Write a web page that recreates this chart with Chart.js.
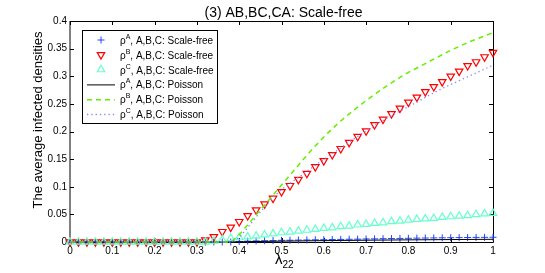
<!DOCTYPE html>
<html>
<head>
<meta charset="utf-8">
<script src="https://cdn.jsdelivr.net/npm/chart.js@4"></script>
<style>
html,body{margin:0;padding:0;background:#fff;}
#wrap{width:545px;height:273px;position:relative;}
</style>
</head>
<body>
<div id="wrap"><canvas id="c" width="545" height="273"></canvas></div>
<script>
const lambda = [0,0.02,0.04,0.06,0.08,0.10,0.12,0.14,0.16,0.18,0.20,0.22,0.24,0.26,0.28,0.30,0.32,0.34,0.36,0.38,0.40,0.42,0.44,0.46,0.48,0.50,0.52,0.54,0.56,0.58,0.60,0.62,0.64,0.66,0.68,0.70,0.72,0.74,0.76,0.78,0.80,0.82,0.84,0.86,0.88,0.90,0.92,0.94,0.96,0.98,1.00];

// Scale-free network results (markers)
const rhoA_SF = [0,0,0,0,0,0,0,0,0,0,0,0,0,0,0,0,0,0,0,0,
  0.001,0.0015,0.002,0.0023,0.0026,0.003,0.0032,0.0035,0.0037,0.004,0.0042,0.0045,0.0047,0.005,0.0052,0.0055,0.0057,0.006,0.0062,0.0065,0.0067,0.007,0.0072,0.0074,0.0076,0.0078,0.008,0.0081,0.0083,0.0084,0.0086];
const rhoB_SF = [0,0,0,0,0,0,0,0,0,0,0,0,0,0,0,0,
  0.0036,0.0096,0.0187,0.0266,0.0368,0.0476,0.058,0.0688,0.079,0.091,0.102,0.113,0.124,0.136,0.147,0.158,0.169,0.180,0.191,0.201,0.212,0.222,0.232,0.242,0.253,0.262,0.272,0.281,0.290,0.300,0.309,0.319,0.326,0.335,0.343];
const rhoC_SF = [0,0,0,0,0,0,0,0,0,0,0,0,0,0,0,0,0,
  0.002,0.004,0.0066,0.008,0.0096,0.011,0.013,0.015,0.017,0.018,0.020,0.0215,0.023,0.025,0.026,0.028,0.029,0.031,0.032,0.034,0.035,0.037,0.038,0.040,0.041,0.042,0.043,0.045,0.046,0.047,0.048,0.050,0.051,0.052];

// Poisson network results (lines)
const rhoA_P = [0,0,0,0,0,0,0,0,0,0,0,0,0,0,0,0,0,0,0,0,
  0.0003,0.0006,0.0009,0.0011,0.0013,0.0015,0.0017,0.0019,0.0021,0.0023,0.0025,0.0026,0.0028,0.0029,0.0031,0.0032,0.0034,0.0035,0.0036,0.0038,0.0039,0.004,0.0041,0.0042,0.0043,0.0044,0.0045,0.0046,0.0047,0.0048,0.0049];
const rhoB_P = [0,0,0,0,0,0,0,0,0,0,0,0,0,0,0,0,0,0,0,0,
  0.013,0.031,0.049,0.067,0.085,0.103,0.121,0.139,0.157,0.174,0.190,0.205,0.219,0.232,0.244,0.256,0.267,0.278,0.288,0.298,0.307,0.315,0.323,0.331,0.339,0.347,0.354,0.361,0.367,0.373,0.379];
const rhoC_P = [0,0,0,0,0,0,0,0,0,0,0,0,0,0,0,0,0,0,0,0,
  0.008,0.026,0.045,0.063,0.081,0.095,0.106,0.117,0.128,0.139,0.149,0.160,0.170,0.181,0.191,0.201,0.211,0.220,0.229,0.237,0.245,0.253,0.262,0.270,0.278,0.285,0.292,0.299,0.306,0.313,0.320];

const xTicks = [0,0.1,0.2,0.3,0.4,0.5,0.6,0.7,0.8,0.9,1];
const xTickLabels = ['0','0.1','0.2','0.3','0.4','0.5','0.6','0.7','0.8','0.9','1'];
const yTicks = [0,0.05,0.1,0.15,0.2,0.25,0.3,0.35,0.4];
const yTickLabels = ['0','0.05','0.1','0.15','0.2','0.25','0.3','0.35','0.4'];

const titleText = '(3) AB,BC,CA: Scale-free';
const yTitle = 'The average infected densities';
const legendItems = [
  {sup:'A', rest:', A,B,C: Scale-free'},
  {sup:'B', rest:', A,B,C: Scale-free'},
  {sup:'C', rest:', A,B,C: Scale-free'},
  {sup:'A', rest:', A,B,C: Poisson'},
  {sup:'B', rest:', A,B,C: Poisson'},
  {sup:'C', rest:', A,B,C: Poisson'}
];

const FONT = "'Liberation Sans', Arial, sans-serif";
const pts = arr => arr.map((v,i)=>({x:lambda[i], y:v}));

const datasets = [
  {data:pts(rhoA_SF), borderColor:'#2244ff', showLine:false, pointStyle:'cross', pointRadius:3.5, pointBorderWidth:1, order:5},
  {data:pts(rhoB_SF), borderColor:'#ff0000', showLine:false, pointStyle:'triangle', rotation:180, pointRadius:4.3, pointBorderWidth:1.2, order:4},
  {data:pts(rhoC_SF), borderColor:'#66ffcc', showLine:false, pointStyle:'triangle', pointRadius:4.3, pointBorderWidth:1.2, order:3},
  {data:pts(rhoA_P), borderColor:'#000000', borderWidth:1, pointRadius:0, order:2},
  {data:pts(rhoB_P), borderColor:'#66ee00', borderWidth:1.5, borderDash:[5,4], pointRadius:0, order:1},
  {data:pts(rhoC_P), borderColor:'#8888ff', borderWidth:1.3, borderDash:[1.3,3], pointRadius:0, order:0}
];
datasets.forEach(d=>{ d.clip = false; d.tension = 0; d.fill = false; d.pointBorderColor = d.borderColor; d.pointBackgroundColor = 'rgba(0,0,0,0)'; });

const decor = {
  id:'decor',
  beforeDatasetsDraw(chart){
    const {ctx, chartArea:a, scales:{x, y}} = chart;
    ctx.save();
    ctx.strokeStyle = '#000'; ctx.lineWidth = 1;
    ctx.beginPath();
    ctx.moveTo(a.left, a.top+0.5); ctx.lineTo(a.right+0.5, a.top+0.5); ctx.lineTo(a.right+0.5, a.bottom+0.5);
    ctx.stroke();
    ctx.beginPath(); ctx.moveTo(a.left, a.bottom+0.5); ctx.lineTo(a.right+0.5, a.bottom+0.5); ctx.stroke();
    ctx.strokeStyle = '#808080'; ctx.lineWidth = 2;
    ctx.beginPath(); ctx.moveTo(a.left, a.top); ctx.lineTo(a.left, a.bottom+1); ctx.stroke();
    ctx.strokeStyle = '#000'; ctx.lineWidth = 1;
    const tl = 4;
    xTicks.forEach(v=>{
      const px = Math.round(x.getPixelForValue(v))+0.5;
      ctx.beginPath(); ctx.moveTo(px, a.bottom); ctx.lineTo(px, a.bottom-tl); ctx.stroke();
      ctx.beginPath(); ctx.moveTo(px, a.top); ctx.lineTo(px, a.top+tl); ctx.stroke();
    });
    yTicks.forEach(v=>{
      const py = Math.round(y.getPixelForValue(v))+0.5;
      ctx.beginPath(); ctx.moveTo(a.left, py); ctx.lineTo(a.left+tl, py); ctx.stroke();
      ctx.beginPath(); ctx.moveTo(a.right, py); ctx.lineTo(a.right-tl, py); ctx.stroke();
    });
    ctx.restore();
  },
  afterDraw(chart){
    const {ctx, chartArea:a} = chart;
    ctx.save();
    ctx.fillStyle = '#000';
    ctx.font = '14px ' + FONT;
    ctx.textAlign = 'center'; ctx.textBaseline = 'alphabetic';
    ctx.fillText(titleText, (a.left+a.right)/2 + 2, 17);
    ctx.save();
    ctx.translate(42, 120);
    ctx.rotate(-Math.PI/2);
    ctx.font = '13px ' + FONT;
    ctx.textAlign = 'center'; ctx.textBaseline = 'alphabetic';
    ctx.fillText(yTitle, 0, 0);
    ctx.restore();
    ctx.textAlign = 'left';
    ctx.font = '15px ' + FONT;
    const lx = 275;
    ctx.fillText('λ', lx, 264);
    const lw = ctx.measureText('λ').width;
    ctx.font = '10px ' + FONT;
    ctx.fillText('22', lx + lw, 268);
    // legend
    const bx = 82, by = 30, bw = 135, bh = 93;
    ctx.fillStyle = '#fff';
    ctx.fillRect(bx, by, bw, bh);
    ctx.strokeStyle = '#000'; ctx.lineWidth = 1;
    ctx.strokeRect(bx+0.5, by+0.5, bw, bh);
    const rowY = [40, 54.8, 69.6, 84.4, 99.2, 114];
    legendItems.forEach((it, i)=>{
      const ds = datasets[i];
      const cy = rowY[i];
      ctx.save();
      ctx.strokeStyle = ds.borderColor;
      ctx.fillStyle = 'rgba(0,0,0,0)';
      if (ds.showLine === false) {
        ctx.lineWidth = ds.pointBorderWidth;
        Chart.helpers.drawPoint(ctx, {pointStyle: ds.pointStyle, rotation: ds.rotation || 0, radius: ds.pointRadius, borderWidth: ds.pointBorderWidth}, 101, cy);
      } else {
        ctx.lineWidth = ds.borderWidth;
        ctx.setLineDash(ds.borderDash || []);
        ctx.beginPath(); ctx.moveTo(87, cy+0.5); ctx.lineTo(115, cy+0.5); ctx.stroke();
      }
      ctx.restore();
      ctx.fillStyle = '#000';
      ctx.textAlign = 'left'; ctx.textBaseline = 'alphabetic';
      ctx.font = '10px ' + FONT;
      let tx = 120;
      ctx.fillText('ρ', tx, cy+4);
      tx += ctx.measureText('ρ').width;
      ctx.font = '7px ' + FONT;
      ctx.fillText(it.sup, tx, cy-1);
      tx += ctx.measureText(it.sup).width;
      ctx.font = '10px ' + FONT;
      ctx.fillText(it.rest, tx, cy+4);
    });
    ctx.restore();
  }
};

new Chart(document.getElementById('c'), {
  type:'line',
  data:{datasets},
  options:{
    responsive:false,
    animation:false,
    events:[],
    layout:{padding:{top:21, right:52, left:0, bottom:0}},
    plugins:{legend:{display:false}, tooltip:{enabled:false}, title:{display:false}},
    scales:{
      x:{
        type:'linear', min:0, max:1,
        grid:{display:false, drawTicks:false},
        border:{display:false},
        afterBuildTicks(s){ s.ticks = xTicks.map(v=>({value:v})); },
        afterFit(s){ s.height = 31; },
        ticks:{padding:3, color:'#000', font:{family:FONT, size:10}, maxRotation:0, autoSkip:false,
          callback:(v,i)=>xTickLabels[i]}
      },
      y:{
        type:'linear', min:0, max:0.4,
        grid:{display:false, drawTicks:false},
        border:{display:false},
        afterBuildTicks(s){ s.ticks = yTicks.map(v=>({value:v})); },
        afterFit(s){ s.width = 70; },
        ticks:{padding:3, color:'#000', font:{family:FONT, size:10}, autoSkip:false,
          callback:(v,i)=>yTickLabels[i]}
      }
    }
  },
  plugins:[decor]
});
</script>
</body>
</html>
